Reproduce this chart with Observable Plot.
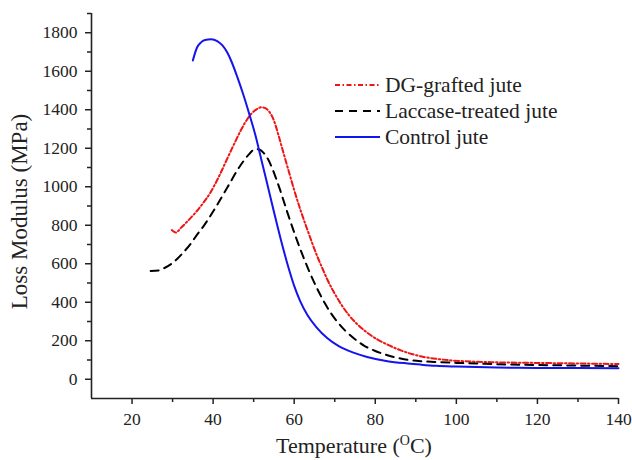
<!DOCTYPE html>
<html><head><meta charset="utf-8">
<script src="https://cdn.jsdelivr.net/npm/d3@7"></script>
<script src="https://cdn.jsdelivr.net/npm/@observablehq/plot@0.6"></script>
<style>
body{margin:0;background:#fff;}
#wrap{position:relative;width:632px;height:460px;overflow:hidden;}
#wrap > svg{position:absolute;left:0;top:0;}
.lbl{position:absolute;font-family:"Liberation Serif",serif;color:#222;white-space:nowrap;}
#xlabel{left:154px;width:400px;text-align:center;top:435px;font-size:22px;line-height:22px;}
#xlabel sup{font-size:14px;line-height:0;vertical-align:8px;}
#ylabel{left:-131px;width:300px;text-align:center;top:200px;font-size:23px;line-height:23px;transform:rotate(-90deg);transform-origin:150px 11.5px;}
#legend{position:absolute;left:335px;top:72px;font-family:"Liberation Serif",serif;font-size:21.5px;color:#222;}
.row{display:flex;align-items:center;height:26px;line-height:26px;}
.row svg{display:block;margin-right:5px;}
</style></head><body><div id="wrap"></div>
<script>
// Series
const seriesNames = ["DG-grafted jute", "Laccase-treated jute", "Control jute"];
const seriesColors = ["#f01414", "#000000", "#1414ec"];
const seriesDash = ["5,2.5,1.5,2.5", "8,6", null];

const dgTemp = [29.8, 30.8, 32, 34, 36, 37.5, 39.4, 41.4, 43.9, 45.5, 46.8, 48, 49.3, 50.5, 52, 53, 54, 55, 56.2, 57.5, 58.8, 60, 61.6, 63.3, 64.5, 65.7, 67, 68.2, 69.8, 71.5, 73.5, 75.6, 78, 80.5, 83, 86.3, 89, 91.2, 95, 98.6, 105, 110, 119, 130, 140];
const dgModulus = [775, 762, 785, 828, 874, 914, 972, 1052, 1165, 1236, 1292, 1337, 1376, 1399, 1413, 1407, 1385, 1344, 1262, 1165, 1070, 983, 876, 774, 704, 638, 574, 517, 452, 392, 333, 285, 242, 207, 180, 150, 131, 119, 106, 98, 91, 88, 85, 82, 79];

const lacTemp = [24.6, 26.5, 28, 30.3, 32.5, 34.4, 36, 37.7, 40.6, 43.5, 46.4, 48.5, 50.5, 51.5, 52.5, 53.5, 54.5, 55.5, 56.5, 57.5, 58.5, 59.5, 60.5, 61.5, 62.5, 63.5, 64.5, 65.5, 66.5, 67.5, 69, 70.5, 72.7, 75, 77.2, 80, 82.2, 87.1, 91.2, 94.5, 100, 105, 110, 120, 130, 140];
const lacModulus = [562, 565, 578, 609, 655, 702, 750, 797, 892, 996, 1100, 1160, 1196, 1192, 1175, 1145, 1100, 1045, 985, 920, 855, 793, 733, 676, 622, 571, 523, 478, 436, 397, 345, 302, 250, 208, 175, 147, 130, 104, 94, 90, 85, 82, 78, 74, 71, 68];

const ctlTemp = [35, 36, 37, 38, 39.5, 41, 42.3, 43.5, 44.5, 46, 47.5, 49, 50.5, 51.7, 53, 54.2, 55, 56.2, 57.5, 58.8, 60, 61.5, 63.3, 65.5, 68.2, 71, 74.8, 78, 83, 88, 91.2, 95, 100, 110, 120, 130, 140];
const ctlModulus = [1656, 1722, 1750, 1762, 1766, 1757, 1734, 1697, 1652, 1568, 1475, 1372, 1262, 1158, 1045, 940, 870, 768, 662, 565, 485, 405, 333, 270, 213, 172, 137, 116, 94, 82, 76, 70, 66, 61, 59, 58, 57];

// Axes
const xDomain = [10, 140];
const yDomain = [-100, 1900];
const xMajorTicks = [20, 40, 60, 80, 100, 120, 140];
const xMinorTicks = [30, 50, 70, 90, 110, 130];
const yMajorTicks = [0, 200, 400, 600, 800, 1000, 1200, 1400, 1600, 1800];
const yMinorTicks = [100, 300, 500, 700, 900, 1100, 1300, 1500, 1700, 1900];
const xTitle = "Temperature (";
const xTitleSup = "O";
const xTitleEnd = "C)";
const yTitle = "Loss Modulus (MPa)";

const series = [
  {name: seriesNames[0], temp: dgTemp, mod: dgModulus, color: seriesColors[0], dash: seriesDash[0]},
  {name: seriesNames[1], temp: lacTemp, mod: lacModulus, color: seriesColors[1], dash: seriesDash[1]},
  {name: seriesNames[2], temp: ctlTemp, mod: ctlModulus, color: seriesColors[2], dash: seriesDash[2]}
];

const lineMarks = series.map(s => Plot.line(
  s.temp.map((t, i) => ({t, m: s.mod[i]})),
  {x: "t", y: "m", stroke: s.color, strokeWidth: 2, strokeDasharray: s.dash, curve: "monotone-x"}
));

const chart = Plot.plot({
  width: 632, height: 460,
  marginLeft: 91, marginRight: 14, marginTop: 13, marginBottom: 62,
  x: {domain: xDomain},
  y: {domain: yDomain},
  style: {fontFamily: "Liberation Serif, serif", fontSize: "17.5px", color: "#222", background: "transparent"},
  marks: [
    ...lineMarks,
    Plot.ruleX([xDomain[0]], {stroke: "#222", strokeWidth: 1.6}),
    Plot.ruleY([yDomain[0]], {stroke: "#222", strokeWidth: 1.6}),
    Plot.axisX(xMajorTicks, {tickSize: 6, tickPadding: 8, strokeWidth: 1.5, tickFormat: d3.format("d"), label: null}),
    Plot.axisX(xMinorTicks, {tickSize: 4, strokeWidth: 1.5, text: null, label: null}),
    Plot.axisY(yMajorTicks, {tickSize: 6, tickPadding: 8, strokeWidth: 1.5, tickFormat: d3.format("d"), label: null}),
    Plot.axisY(yMinorTicks, {tickSize: 4, strokeWidth: 1.5, text: null, label: null})
  ]
});

const wrap = document.getElementById("wrap");
wrap.appendChild(chart);

const xl = document.createElement("div");
xl.id = "xlabel"; xl.className = "lbl";
xl.append(xTitle);
const sup = document.createElement("sup"); sup.textContent = xTitleSup; xl.append(sup);
xl.append(xTitleEnd);
wrap.appendChild(xl);

const yl = document.createElement("div");
yl.id = "ylabel"; yl.className = "lbl"; yl.textContent = yTitle;
wrap.appendChild(yl);

const legend = document.createElement("div");
legend.id = "legend";
series.forEach(s => {
  const row = document.createElement("div");
  row.className = "row";
  const ns = "http://www.w3.org/2000/svg";
  const sw = document.createElementNS(ns, "svg");
  sw.setAttribute("width", 45); sw.setAttribute("height", 6);
  const ln = document.createElementNS(ns, "line");
  ln.setAttribute("x1", 0); ln.setAttribute("x2", 45); ln.setAttribute("y1", 3); ln.setAttribute("y2", 3);
  ln.setAttribute("stroke", s.color); ln.setAttribute("stroke-width", 2);
  if (s.dash) ln.setAttribute("stroke-dasharray", s.dash);
  sw.appendChild(ln);
  row.appendChild(sw);
  const tx = document.createElement("span"); tx.textContent = s.name;
  row.appendChild(tx);
  legend.appendChild(row);
});
wrap.appendChild(legend);
</script></body></html>
